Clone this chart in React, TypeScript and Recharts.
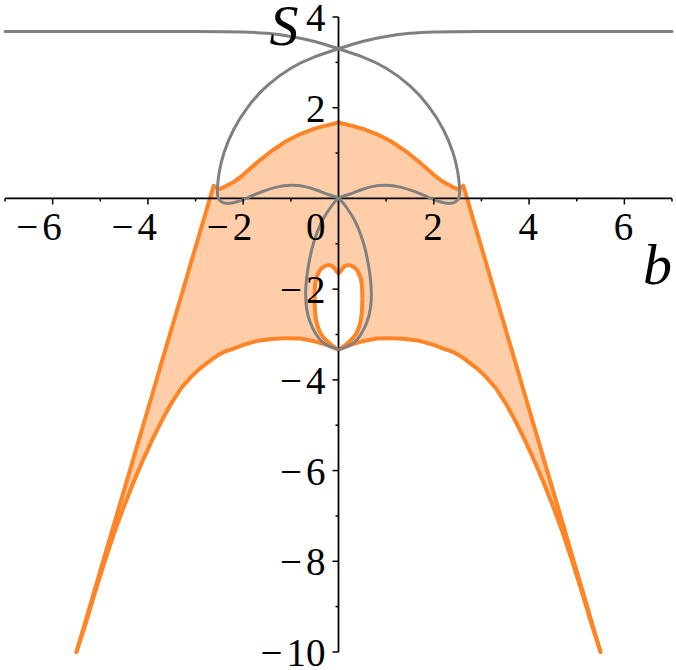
import { ComposedChart, XAxis, YAxis, Area, Line, Scatter, ReferenceLine } from "recharts";

document.body.style.margin = "0";

const ORANGE = "#FF8426";
const ORANGE_FILL = "#FFCEA8";
const GRAY = "#808080";
const FONT = "Liberation Serif, DejaVu Serif, serif";

// shaded region: lower curve up to the outer edges / upper curve
const bandX = [
  -5.5, -5.3, -5.1, -4.9, -4.7, -4.5, -4.3, -4.1, -3.9, -3.7, -3.5, -3.3, -3.1, -2.9, -2.62, -2.52, -2.4, -2.2, -2.0,
  -1.7, -1.4, -1.1, -0.8, -0.5, -0.25, -0.1, 0, 0.1, 0.25, 0.5, 0.8, 1.1, 1.4, 1.7, 2.0, 2.2, 2.4, 2.52, 2.62, 2.9,
  3.1, 3.3, 3.5, 3.7, 3.9, 4.1, 4.3, 4.5, 4.7, 4.9, 5.1, 5.3, 5.5,
];
const bandLow = [
  -10, -9.35, -8.65, -7.98, -7.35, -6.78, -6.25, -5.76, -5.3, -4.88, -4.5, -4.18, -3.94, -3.74, -3.52, -3.45, -3.38,
  -3.31, -3.23, -3.14, -3.1, -3.08, -3.09, -3.15, -3.23, -3.29, -3.33, -3.29, -3.23, -3.15, -3.09, -3.08, -3.1, -3.14,
  -3.23, -3.31, -3.38, -3.45, -3.52, -3.74, -3.94, -4.18, -4.5, -4.88, -5.3, -5.76, -6.25, -6.78, -7.35, -7.98, -8.65,
  -9.35, -10,
];
const bandHigh = [
  -10, -9.29, -8.57, -7.86, -7.14, -6.43, -5.72, -5.0, -4.29, -3.57, -2.86, -2.15, -1.43, -0.72, 0.28, 0.2, 0.25,
  0.36, 0.52, 0.8, 1.05, 1.26, 1.42, 1.54, 1.61, 1.645, 1.68, 1.645, 1.61, 1.54, 1.42, 1.26, 1.05, 0.8, 0.52, 0.36,
  0.25, 0.2, 0.28, -0.72, -1.43, -2.15, -2.86, -3.57, -4.29, -5.0, -5.72, -6.43, -7.14, -7.86, -8.57, -9.29, -10,
];

// white hole inside the shaded region
const holeX = [-0.5, -0.495, -0.48, -0.45, -0.4, -0.3, -0.2, -0.1, 0, 0.1, 0.2, 0.3, 0.4, 0.45, 0.48, 0.495, 0.5];
const holeLow = [
  -2.2, -2.42, -2.6, -2.76, -2.92, -3.08, -3.18, -3.27, -3.33, -3.27, -3.18, -3.08, -2.92, -2.76, -2.6, -2.42, -2.2,
];
const holeHigh = [
  -2.2, -1.98, -1.84, -1.72, -1.6, -1.5, -1.47, -1.52, -1.65, -1.52, -1.47, -1.5, -1.6, -1.72, -1.84, -1.98, -2.2,
];

// gray branches (b, S)
const grayA: [number, number][] = [
  [-7, 3.68], [-5, 3.68], [-3, 3.68], [-2, 3.67], [-1.5, 3.64], [-1, 3.57], [-0.5, 3.46], [0, 3.3], [0.5, 3.12],
  [1.0, 2.87], [1.5, 2.48], [1.9, 2.02], [2.2, 1.52], [2.4, 1.02], [2.5, 0.6], [2.54, 0.25], [2.53, 0.03],
  [2.45, -0.08], [2.32, -0.11], [2.15, -0.08], [1.9, 0.02], [1.6, 0.15], [1.3, 0.25], [1.0, 0.29], [0.7, 0.26],
  [0.45, 0.18], [0.2, 0.08], [0, 0], [-0.17, -0.2], [-0.32, -0.45], [-0.45, -0.75], [-0.55, -1.08], [-0.62, -1.42],
  [-0.67, -1.77], [-0.69, -2.1], [-0.67, -2.42], [-0.6, -2.72], [-0.48, -2.98], [-0.3, -3.2], [0, -3.33],
];
const grayB: [number, number][] = [
  [7, 3.68], [5, 3.68], [3, 3.68], [2, 3.67], [1.5, 3.64], [1, 3.57], [0.5, 3.46], [0, 3.3], [-0.5, 3.12],
  [-1.0, 2.87], [-1.5, 2.48], [-1.9, 2.02], [-2.2, 1.52], [-2.4, 1.02], [-2.5, 0.6], [-2.54, 0.25], [-2.53, 0.03],
  [-2.45, -0.08], [-2.32, -0.11], [-2.15, -0.08], [-1.9, 0.02], [-1.6, 0.15], [-1.3, 0.25], [-1.0, 0.29], [-0.7, 0.26],
  [-0.45, 0.18], [-0.2, 0.08], [0, 0], [0.17, -0.2], [0.32, -0.45], [0.45, -0.75], [0.55, -1.08], [0.62, -1.42],
  [0.67, -1.77], [0.69, -2.1], [0.67, -2.42], [0.6, -2.72], [0.48, -2.98], [0.3, -3.2], [0, -3.33],
];

const xMajor = [-6, -4, -2, 2, 4, 6];
const xMinor = [-7, -5, -3, -1, 1, 3, 5, 7];
const yMajor = [-10, -8, -6, -4, -2, 2, 4];
const yMinor = [-9, -7, -5, -3, -1, 1, 3];

const bandData = bandX.map((x, i) => ({ x, band: [bandLow[i], bandHigh[i]] }));
const holeData = holeX.map((x, i) => ({ x, hole: [holeLow[i], holeHigh[i]] }));
const toPts = (arr: [number, number][]) => arr.map(([x, y]) => ({ x, y }));

const xTickData = [
  ...xMajor.map((x) => ({ x, y: 0, major: true, label: true })),
  ...xMinor.map((x) => ({ x, y: 0, major: false, label: false })),
  { x: 0, y: 0, major: false, label: true, zero: true },
];
const yTickData = [
  ...yMajor.map((y) => ({ x: 0, y, major: true })),
  ...yMinor.map((y) => ({ x: 0, y, major: false })),
];
const titleData = [
  { x: 7, y: 0, name: "b" },
  { x: 0, y: 4, name: "S" },
];

const labelStyle = { fontFamily: FONT, fontSize: 39 };

function numText(v: number) {
  if (v < 0)
    return (
      <>
        <tspan>−</tspan>
        <tspan dx={4}>{Math.abs(v)}</tspan>
      </>
    );
  return String(v);
}

function XTick(props: any) {
  const { cx, cy, payload } = props;
  const len = payload.major ? 6 : 3;
  return (
    <g>
      {!payload.zero && <line x1={cx} y1={cy} x2={cx} y2={cy + len} stroke="#000" strokeWidth={1.5} />}
      {payload.label && (
        <text x={payload.zero ? cx - 13 : cx + 9} y={cy + 42} textAnchor="end" fill="#000" style={labelStyle}>
          {numText(payload.x)}
        </text>
      )}
    </g>
  );
}

function YTick(props: any) {
  const { cx, cy, payload } = props;
  const len = payload.major ? 6 : 3;
  return (
    <g>
      <line x1={cx - len} y1={cy} x2={cx} y2={cy} stroke="#000" strokeWidth={1.5} />
      {payload.major && (
        <text x={cx - 13} y={cy + 14} textAnchor="end" fill="#000" style={labelStyle}>
          {numText(payload.y)}
        </text>
      )}
    </g>
  );
}

function AxisTitle(props: any) {
  const { cx, cy, payload } = props;
  const isB = payload.name === "b";
  return (
    <text
      x={isB ? cx : cx - 40}
      y={isB ? cy + 86 : cy + 28}
      textAnchor="end"
      fill="#000"
      style={{ fontFamily: FONT, fontSize: 58, fontStyle: "italic" }}
    >
      {payload.name}
    </text>
  );
}

export default function App() {
  return (
    <ComposedChart
      width={676}
      height={670}
      data={bandData}
      margin={{ top: 17, right: 4, bottom: 18, left: 5 }}
    >
      <XAxis type="number" dataKey="x" domain={[-7, 7]} hide />
      <YAxis type="number" domain={[-10, 4]} hide />
      <Area
        dataKey="band"
        type="linear"
        fill={ORANGE_FILL}
        fillOpacity={1}
        stroke={ORANGE}
        strokeWidth={4}
        strokeLinecap="round"
        strokeLinejoin="round"
        isAnimationActive={false}
      />
      <Area
        data={holeData}
        dataKey="hole"
        type="monotone"
        fill="#ffffff"
        fillOpacity={1}
        stroke={ORANGE}
        strokeWidth={4}
        strokeLinejoin="round"
        isAnimationActive={false}
      />
      <ReferenceLine y={0} stroke="#000" strokeWidth={1.8} />
      <ReferenceLine x={0} stroke="#000" strokeWidth={1.8} />
      <Line
        data={toPts(grayA)}
        dataKey="y"
        type="natural"
        stroke={GRAY}
        strokeWidth={3}
        strokeLinecap="round"
        dot={false}
        isAnimationActive={false}
      />
      <Line
        data={toPts(grayB)}
        dataKey="y"
        type="natural"
        stroke={GRAY}
        strokeWidth={3}
        strokeLinecap="round"
        dot={false}
        isAnimationActive={false}
      />
      <Scatter data={xTickData} dataKey="y" shape={XTick} isAnimationActive={false} />
      <Scatter data={yTickData} dataKey="y" shape={YTick} isAnimationActive={false} />
      <Scatter data={titleData} dataKey="y" shape={AxisTitle} isAnimationActive={false} />
    </ComposedChart>
  );
}
